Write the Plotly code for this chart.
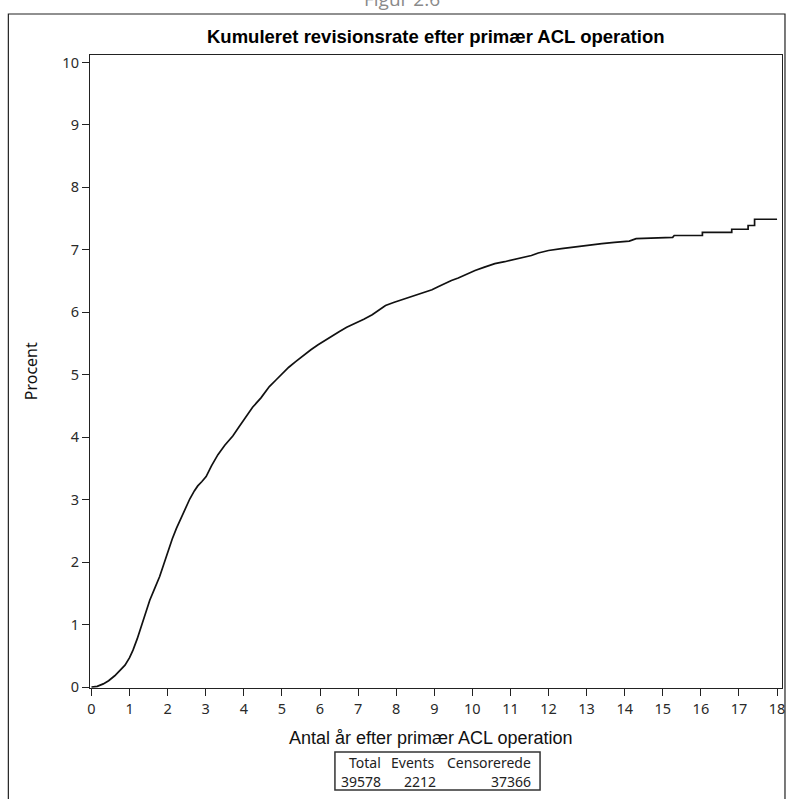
import plotly.graph_objects as go

# Cumulative revision rate (%) after primary ACL reconstruction
years = [0.00, 0.15, 0.31, 0.45, 0.61, 0.75, 0.88, 1.00, 1.09, 1.20, 1.31, 1.42,
         1.53, 1.66, 1.79, 1.90, 2.01, 2.12, 2.23, 2.40, 2.58, 2.70, 2.79, 2.90,
         3.01, 3.15, 3.32, 3.50, 3.71, 3.88, 4.01, 4.23, 4.45, 4.67, 4.85, 5.01,
         5.18, 5.36, 5.56, 5.76, 5.95, 6.15, 6.32, 6.50, 6.70, 6.93, 7.15, 7.37,
         7.55, 7.72, 7.95, 8.15, 8.37, 8.59, 8.76, 8.94, 9.10, 9.29, 9.45, 9.63,
         9.80, 10.07, 10.30, 10.59, 10.85, 11.12, 11.35, 11.55, 11.73, 12.00,
         12.34, 12.70, 13.03, 13.40, 13.73, 14.12, 14.30, 15.26, 15.30, 16.04,
         16.04, 16.81, 16.81, 17.24, 17.24, 17.41, 17.41, 18.00]
revision_pct = [0.00, 0.01, 0.05, 0.10, 0.18, 0.26, 0.35, 0.47, 0.59, 0.77, 0.97, 1.18,
                1.39, 1.58, 1.77, 1.97, 2.19, 2.37, 2.54, 2.78, 3.01, 3.14, 3.22, 3.29,
                3.37, 3.54, 3.72, 3.87, 4.02, 4.17, 4.28, 4.48, 4.63, 4.81, 4.92, 5.02,
                5.12, 5.21, 5.31, 5.40, 5.48, 5.56, 5.63, 5.69, 5.76, 5.82, 5.89, 5.96,
                6.04, 6.11, 6.16, 6.20, 6.24, 6.28, 6.32, 6.36, 6.41, 6.47, 6.51, 6.55,
                6.60, 6.67, 6.72, 6.78, 6.81, 6.85, 6.88, 6.91, 6.95, 6.99,
                7.02, 7.05, 7.08, 7.10, 7.12, 7.14, 7.18, 7.20, 7.23, 7.23,
                7.28, 7.28, 7.33, 7.33, 7.39, 7.39, 7.49, 7.49]

x_ticks = list(range(0, 19))
y_ticks = list(range(0, 11))

table_headers = ["Total", "Events", "Censorerede"]
table_values = [39578, 2212, 37366]

figure_label = "Figur 2.6"
title_text = "Kumuleret revisionsrate efter primær ACL operation"
x_title = "Antal år efter primær ACL operation"
y_title = "Procent"

W, H = 790, 799
ML, MR, MT, MB = 90, 5, 55, 111
PW, PH = W - ML - MR, H - MT - MB


def px(x):
    """Horizontal pixel -> paper coordinate."""
    return (x - ML) / PW


def py(y):
    """Vertical pixel (from top) -> paper coordinate."""
    return (H - MB - y) / PH


AXIS = "#222222"
TEXT = "#2a2a2a"

fig = go.Figure()
fig.add_trace(go.Scatter(
    x=years, y=revision_pct, mode="lines",
    line=dict(color="#111111", width=1.7, shape="linear"),
    hoverinfo="x+y", showlegend=False,
))

axis_common = dict(
    showgrid=False, zeroline=False, showline=True, mirror=True,
    linecolor=AXIS, linewidth=1.3, ticks="outside", ticklen=7,
    tickwidth=1.3, tickcolor=AXIS,
    tickfont=dict(family="Noto Sans", size=14.5, color=TEXT),
)

fig.update_xaxes(range=[-0.039, 18.13], tickvals=x_ticks, **axis_common)
fig.update_yaxes(range=[-0.016, 10.12], tickvals=y_ticks, **axis_common)

annotations = [
    dict(text=figure_label, x=px(403), y=py(-1), xref="paper", yref="paper",
         xanchor="center", yanchor="middle", showarrow=False,
         font=dict(family="Open Sans", size=19, color="#8a8a8a")),
    dict(text="<b>" + title_text + "</b>", x=px(437), y=py(37), xref="paper",
         yref="paper", xanchor="center", yanchor="middle", showarrow=False,
         font=dict(family="Liberation Sans", size=18.5, color="#000000")),
    dict(text=x_title, x=px(432), y=py(738), xref="paper", yref="paper",
         xanchor="center", yanchor="middle", showarrow=False,
         font=dict(family="Liberation Sans", size=18, color="#111111")),
    dict(text=y_title, x=px(31), y=py(371), xref="paper", yref="paper",
         xanchor="center", yanchor="middle", showarrow=False, textangle=-90,
         font=dict(family="Noto Sans", size=16, color="#111111")),
]

# Summary table below the x-axis title (right-aligned columns)
header_right = [384, 438, 535]
value_right = [384, 440, 535]
tfont = dict(family="Noto Sans", size=14, color="#222222")
for name, xr in zip(table_headers, header_right):
    annotations.append(dict(text=name, x=px(xr), y=py(762), xref="paper", yref="paper",
                            xanchor="right", yanchor="middle", showarrow=False, font=tfont))
for val, xv in zip(table_values, value_right):
    annotations.append(dict(text=str(val), x=px(xv), y=py(781), xref="paper", yref="paper",
                            xanchor="right", yanchor="middle", showarrow=False, font=tfont))

shapes = [
    # outer frame
    dict(type="rect", xref="paper", yref="paper", x0=px(8), x1=px(788),
         y0=py(830), y1=py(14), line=dict(color="#222222", width=1.2),
         fillcolor="rgba(0,0,0,0)", layer="above"),
    # table box
    dict(type="rect", xref="paper", yref="paper", x0=px(336), x1=px(542),
         y0=py(790), y1=py(752), line=dict(color="#333333", width=1.5),
         fillcolor="rgba(0,0,0,0)", layer="above"),
]

fig.update_layout(
    width=W, height=H,
    margin=dict(l=ML, r=MR, t=MT, b=MB, pad=0),
    paper_bgcolor="white", plot_bgcolor="white",
    annotations=annotations, shapes=shapes,
    showlegend=False,
)

fig.write_html("out.html")
